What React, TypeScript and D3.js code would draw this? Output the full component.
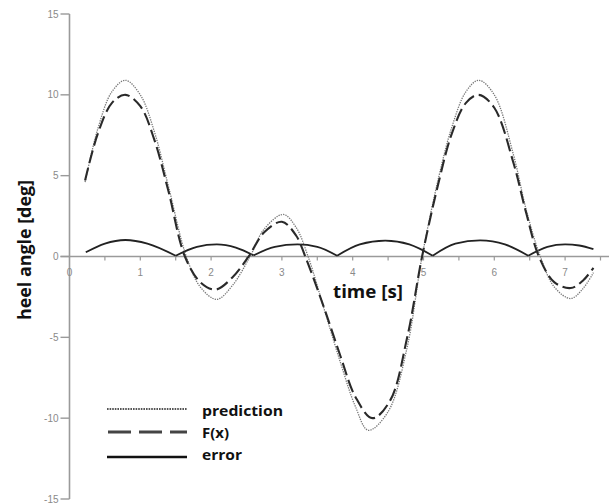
import React from "react";
import * as d3 from "d3";

// ---- data ----
const predT = [0.22, 0.4, 0.6, 0.79, 1.0, 1.2, 1.4, 1.65, 1.85, 2.08, 2.3, 2.55, 2.75, 3.02, 3.2, 3.37, 3.6, 3.83, 4.04, 4.22, 4.5, 4.77, 4.98, 5.22, 5.4, 5.6, 5.78, 6.0, 6.27, 6.45, 6.65, 6.85, 7.08, 7.25, 7.4];
const predV = [4.6, 7.9, 10.2, 10.9, 10.0, 7.7, 4.3, 0.0, -1.9, -2.65, -1.8, 0.0, 1.7, 2.6, 1.8, 0.0, -3.3, -6.6, -9.3, -10.75, -9.6, -5.6, 0.0, 5.0, 8.0, 10.2, 10.9, 10.0, 6.3, 2.9, 0.0, -1.9, -2.6, -2.0, -1.0];

const fxT = [0.22, 0.4, 0.6, 0.79, 1.0, 1.2, 1.4, 1.63, 1.85, 2.06, 2.3, 2.53, 2.75, 3.0, 3.2, 3.33, 3.59, 3.83, 4.04, 4.28, 4.53, 4.77, 4.98, 5.22, 5.4, 5.6, 5.78, 6.0, 6.27, 6.45, 6.63, 6.85, 7.08, 7.25, 7.4];
const fxV = [4.7, 7.6, 9.5, 10.0, 9.3, 7.2, 4.0, 0.0, -1.6, -2.05, -1.3, 0.0, 1.5, 2.15, 1.3, 0.0, -3.1, -6.2, -8.7, -10.0, -8.9, -5.0, 0.0, 4.7, 7.6, 9.5, 10.0, 9.2, 5.8, 2.7, 0.0, -1.6, -1.95, -1.5, -0.7];

const errT = [0.23, 0.5, 0.79, 1.1, 1.5, 1.8, 2.08, 2.35, 2.6, 2.9, 3.22, 3.5, 3.78, 4.1, 4.46, 4.8, 5.13, 5.45, 5.8, 6.15, 6.48, 6.75, 7.0, 7.2, 7.4];
const errV = [0.26, 0.8, 1.02, 0.8, 0.05, 0.6, 0.75, 0.55, 0.07, 0.6, 0.75, 0.6, 0.05, 0.75, 0.98, 0.75, 0.05, 0.8, 1.0, 0.75, 0.05, 0.6, 0.75, 0.68, 0.45];

const yTicks = [15, 10, 5, 0, -5, -10, -15];
const xLabels = [0, 1, 2, 3, 4, 5, 6, 7];
const xMinorTicks = [0.5, 1, 1.5, 2, 2.5, 3, 3.5, 4, 4.5, 5, 5.5, 6, 6.5, 7, 7.5];
const legendItems = ["prediction", "F(x)", "error"];
const xTitle = "time [s]";
const yTitle = "heel angle [deg]";

export default function App() {
  const W = 611, H = 504;
  const x = d3.scaleLinear().domain([0, 7.5]).range([69.5, 600.5]);
  const y = d3.scaleLinear().domain([-15, 15]).range([499, 14]);

  const pts = (ts: number[], vs: number[]) => ts.map((t, i) => [t, vs[i]] as [number, number]);
  const smooth = d3.line<[number, number]>().x(d => x(d[0])).y(d => y(d[1])).curve(d3.curveCatmullRom.alpha(0.5));
  const mono = d3.line<[number, number]>().x(d => x(d[0])).y(d => y(d[1])).curve(d3.curveMonotoneX);

  // split error curve into arcs at its cusps (local minima)
  const errPts = pts(errT, errV);
  const arcs: [number, number][][] = [];
  let cur: [number, number][] = [];
  errPts.forEach((p, i) => {
    cur.push(p);
    const isMin = i > 0 && i < errPts.length - 1 && p[1] < errPts[i - 1][1] && p[1] < errPts[i + 1][1];
    if (isMin) { arcs.push(cur); cur = [p]; }
  });
  arcs.push(cur);

  const axisColor = "#9a9a9a";
  const labelFont = "'Liberation Sans', Arial, sans-serif";
  const boldFont = "'Open Sans', Lato, sans-serif";
  const y0 = y(0);
  const legendLens = [81, 27, 40];
  const legendBase = [416, 438, 460];

  return (
    <svg width={W} height={H} style={{ position: "absolute", left: 0, top: 0, background: "#fff" }}>
      {/* y axis */}
      <line x1={x(0)} x2={x(0)} y1={y(15)} y2={y(-15)} stroke={axisColor} strokeWidth={1.6} />
      {yTicks.map(v => (
        <g key={v}>
          <line x1={x(0) - 9} x2={x(0)} y1={y(v)} y2={y(v)} stroke={axisColor} strokeWidth={1.4} />
          <text x={x(0) - 11} y={y(v) + 3.5} textAnchor="end" fontSize={10} fill="#8a8a8a" fontFamily={labelFont}>{v}</text>
        </g>
      ))}
      {/* x axis */}
      <line x1={x(0) - 9} x2={609} y1={y0} y2={y0} stroke={axisColor} strokeWidth={1.6} />
      {xMinorTicks.map(t => (
        <line key={t} x1={x(t)} x2={x(t)} y1={y0} y2={y0 + 4} stroke={axisColor} strokeWidth={1.2} />
      ))}
      {xLabels.map(t => (
        <text key={t} x={x(t)} y={y0 + 19} textAnchor="middle" fontSize={10} fill="#8a8a8a" fontFamily={labelFont}>{t}</text>
      ))}

      {/* curves */}
      {arcs.map((a, i) => (
        <path key={i} d={mono(a) || ""} fill="none" stroke="#222" strokeWidth={1.8} />
      ))}
      <path d={smooth(pts(predT, predV)) || ""} fill="none" stroke="#777" strokeWidth={1.3} strokeDasharray="1.3,1.1" />
      <path d={smooth(pts(fxT, fxV)) || ""} fill="none" stroke="#2a2a2a" strokeWidth={2.1} strokeDasharray="13,5" />

      {/* titles */}
      <text x={333} y={298} textLength={70} lengthAdjust="spacingAndGlyphs" fontSize={17} fontWeight={700} fill="#111" fontFamily={boldFont}>{xTitle}</text>
      <text transform={`translate(31,320) rotate(-90)`} textLength={140} lengthAdjust="spacingAndGlyphs" fontSize={17} fontWeight={700} fill="#111" fontFamily={boldFont}>{yTitle}</text>

      {/* legend */}
      <line x1={107} x2={187} y1={409} y2={409} stroke="#555" strokeWidth={2.2} strokeDasharray="1.6,1" />
      <line x1={108} x2={187} y1={432} y2={432} stroke="#444" strokeWidth={3.2} strokeDasharray="23,8" />
      <line x1={107} x2={187} y1={457} y2={457} stroke="#111" strokeWidth={2.4} />
      {legendItems.map((s, i) => (
        <text key={s} x={202} y={legendBase[i]} textLength={legendLens[i]} lengthAdjust="spacingAndGlyphs" fontSize={15} fontWeight={700} fill="#111" fontFamily={boldFont}>{s}</text>
      ))}
    </svg>
  );
}
